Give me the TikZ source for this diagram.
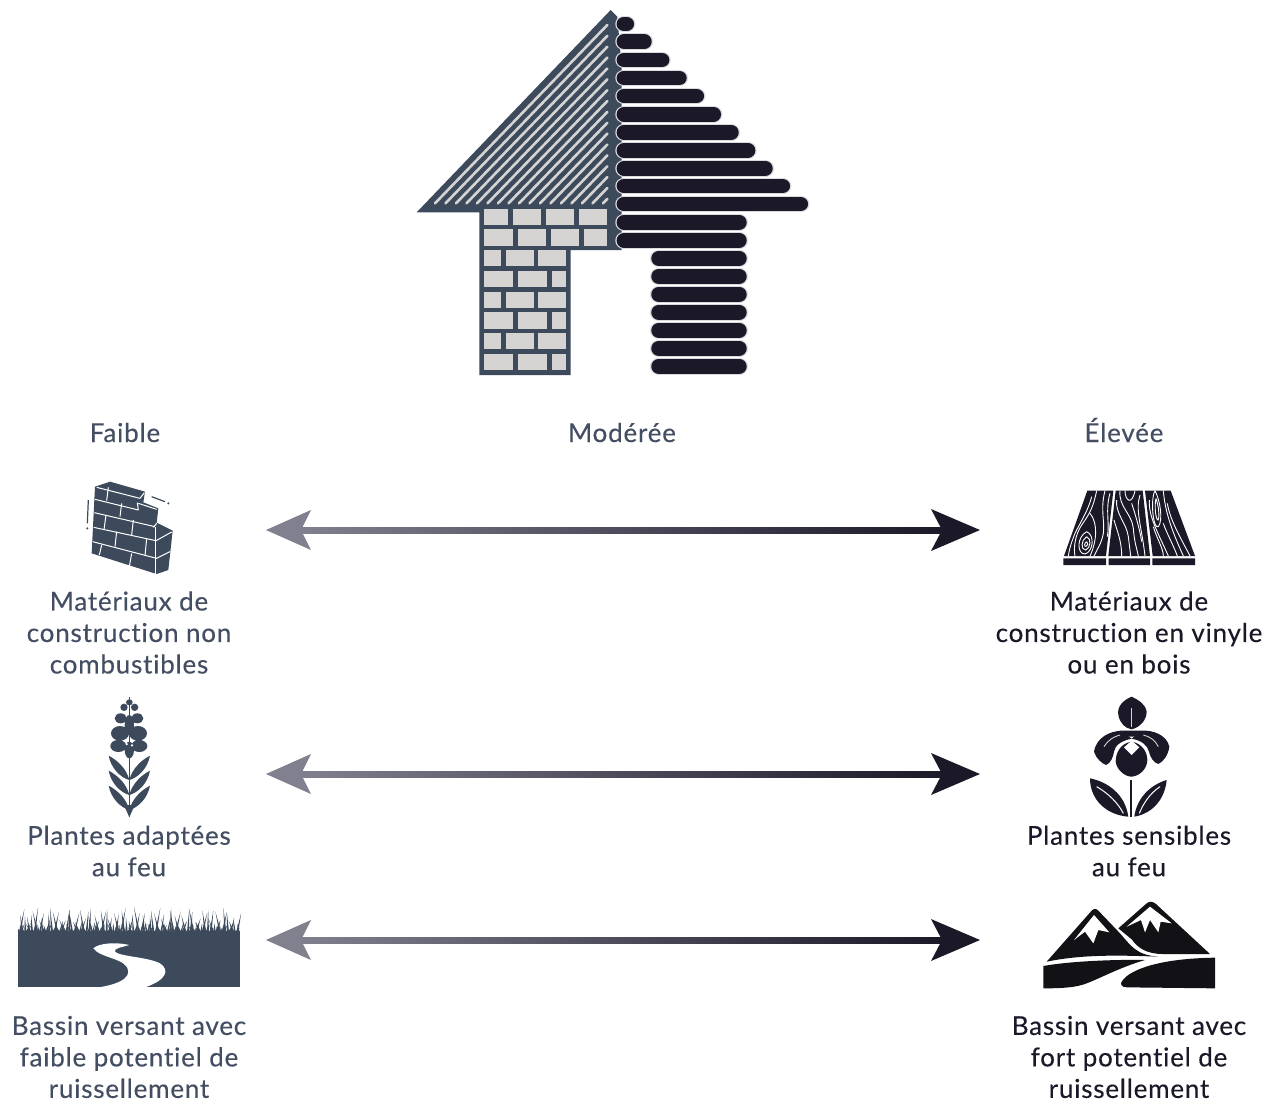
\documentclass[tikz,border=0pt]{standalone}
\usepackage{fontspec}
\setmainfont{Lato}[LetterSpace=3.0,FakeBold=0.25,Ligatures=NoCommon]
\definecolor{slatec}{HTML}{3C4A5C}
\definecolor{inkc}{HTML}{1B1828}
\definecolor{brickc}{HTML}{D5D4D2}
\definecolor{halo}{HTML}{DADADF}
\definecolor{labelc}{HTML}{434E62}
\definecolor{arrowl}{HTML}{80808F}
\definecolor{blackm}{HTML}{121116}
\tikzset{
 lab/.style={font=\fontsize{26}{31.5}\selectfont,align=center,text=#1,inner sep=0pt},
 head/.style={font=\fontsize{26}{31.5}\selectfont,text=labelc,inner sep=0pt,anchor=base},
 logline/.style={line width=14.8pt,line cap=round,draw=inkc},
 loghalo/.style={line width=16.8pt,line cap=round,draw=halo},
 brick/.style={fill=brickc,draw=none},
 grain/.style={draw=white,line width=0.9pt},
 mortar/.style={draw=white,line width=1pt},
}
\newcommand{\dblarrow}[2]{%
 \coordinate (l#1) at (266,#2);
 \coordinate (r#1) at (980,#2);
 \coordinate (ls#1) at (296,#2-3);
 \coordinate (rs#1) at (945,#2+3);
 \shade[left color=arrowl,right color=inkc] (ls#1) rectangle (rs#1);
 \fill[arrowl] (l#1) -- ++(45,-20) -- ++(-10,20) -- ++(10,20) -- cycle;
 \fill[inkc] (r#1) -- ++(-49,-21) -- ++(11,21) -- ++(-11,21) -- cycle;
}
\begin{document}
\begin{tikzpicture}[x=1pt,y=-1pt]
\useasboundingbox (0,0) rectangle (1269,1101);
\fill[white] (0,0) rectangle (1269,1101);
% ---------- House (zoom coordinates)
\begin{scope}[shift={(400,0)},scale=0.33333]
 \fill[slatec] (632,30) -- (50,637) -- (238,637) -- (238,1125) -- (512,1125) -- (512,750) -- (665,750) -- (665,200) -- (652,50) -- cycle;
 \foreach \y/\a/\b in {
  627/253/325,627/340/424,627/437/522,627/536/622,
  688/253/340,688/355/438,688/452/537,688/551/622,
  750/253/302,750/317/402,750/415/499,
  813/253/340,813/355/440,813/455/499,
  875/253/302,875/317/402,875/415/499,
  937/253/340,937/355/440,937/455/499,
  999/253/302,999/317/402,999/415/499,
  1062/253/340,1062/355/440,1062/455/499}{
  \fill[brick] (\a,\y) rectangle (\b,\y+49);
 }
 \foreach \i in {0,...,16}{
  \pgfmathsetmacro{\xs}{105+\i*31.5}
  \pgfmathsetmacro{\ye}{610-(622-\xs)*1.035}
  \draw[brickc,line width=2.6pt,line cap=round] (\xs,610) -- (622,\ye);
 }
 \foreach \y/\e in {72/702,125/755,180/808,234/860,288/912,343/963,397/1016,451/1066,505/1118,558/1170,612/1224,667/1040,721/1040}{
  \draw[loghalo] (671,\y) -- (\e-21,\y);
 }
 \foreach \y in {775,829,883,937,991,1045,1099}{
  \draw[loghalo] (775,\y) -- (1019,\y);
 }
 \foreach \y/\e in {72/702,125/755,180/808,234/860,288/912,343/963,397/1016,451/1066,505/1118,558/1170,612/1224,667/1040,721/1040}{
  \draw[logline] (672,\y) -- (\e-22,\y);
 }
 \foreach \y in {775,829,883,937,991,1045,1099}{
  \draw[logline] (776,\y) -- (1018,\y);
 }
\end{scope}
% ---------- Column headers
\node[head] (faible) at (125,442) {Faible};
\node[head] (moderee) at (622,442) {Modérée};
\node[head] (elevee) at (1124,442) {Élevée};
% ---------- Arrows
\dblarrow{a}{530}
\dblarrow{b}{774}
\dblarrow{c}{940}
% ---------- Labels
\node[lab=labelc] (t1) at (129,632.5) {Matériaux de\\construction non\\combustibles};
\node[lab=inkc] (t2) at (1129,632.5) {Matériaux de\\construction en vinyle\\ou en bois};
\node[lab=labelc] (t3) at (129,851) {Plantes adaptées\\au feu};
\node[lab=inkc] (t4) at (1129,851) {Plantes sensibles\\au feu};
\node[lab=labelc] (t5) at (129,1057) {Bassin versant avec\\faible potentiel de\\ruissellement};
\node[lab=inkc] (t6) at (1129,1057) {Bassin versant avec\\fort potentiel de\\ruissellement};
% ---------- Brick wall and fireweed
\begin{scope}[shift={(0,470)},scale=0.33333]
 \fill[slatec] (285,50) -- (330,35) -- (435,65) -- (430,97) -- (475,115) -- (470,158) -- (518,182) -- (505,300) -- (470,312) -- (275,250) -- cycle;
 \draw[mortar] (290,52) -- (420,85) (420,85) -- (433,68);
 \draw[mortar] (285,88) -- (415,120) (415,100) -- (470,118) (415,120) -- (412,98);
 \draw[mortar] (283,128) -- (465,170) (460,172) -- (470,160);
 \draw[mortar] (281,172) -- (468,212) -- (515,186);
 \draw[mortar] (278,215) -- (470,265) -- (510,245);
 \draw[mortar] (468,170) -- (468,312);
 \draw[mortar] (325,52) -- (320,92) (365,100) -- (360,140) (318,135) -- (312,180) (400,150) -- (395,195);
 \draw[mortar] (350,185) -- (345,230) (305,225) -- (298,255) (395,250) -- (388,290) (440,205) -- (435,258);
 \draw[slatec,line width=1.2pt] (265,90) -- (262,160) (455,80) -- (495,95);
 \fill[slatec] (262,175) circle (3.5) (505,100) circle (3.5);
 % fireweed
 \draw[slatec,line width=1.6pt] (388,680) -- (388,1040);
 \fill[slatec] (388,697) ellipse (10 and 9) (372,712) circle (11) (404,712) circle (11)
  (362,745) ellipse (18 and 15) (412,745) ellipse (18 and 15)
  (360,790) ellipse (27 and 22) (414,790) ellipse (27 and 22)
  (355,828) ellipse (24 and 18) (418,828) ellipse (24 and 18)
  (388,765) ellipse (14 and 30) (388,840) ellipse (14 and 25);
 \fill[white] (380,822) circle (4) (396,826) circle (4);
 \foreach \s/\y in {1/885,1/930,1/975,-1/885,-1/930,-1/975}{
  \fill[slatec] (388,\y+45) .. controls (388+\s*26,\y+38) and (388+\s*55,\y+10) .. (388+\s*62,\y-28) .. controls (388+\s*35,\y-14) and (388+\s*8,\y+12) .. cycle;
 }
 \fill[slatec] (388,1042) -- (372,1005) -- (404,1005) -- cycle;
\end{scope}
% ---------- Wood planks and orchid
\begin{scope}[shift={(950,470)},scale=0.33333]
 \fill[inkc] (412,62) -- (490,62) -- (468,258) -- (342,258) -- cycle;
 \fill[inkc] (497,62) -- (578,62) -- (600,258) -- (475,258) -- cycle;
 \fill[inkc] (585,62) -- (662,62) -- (735,258) -- (608,258) -- cycle;
 \fill[inkc] (340,265) rectangle (468,285) (476,265) rectangle (600,285) (607,265) rectangle (735,285);
 \draw[grain] (440,62) .. controls (430,110) and (420,130) .. (395,165) .. controls (375,195) and (370,235) .. (375,258);
 \draw[grain] (425,80) .. controls (415,120) and (395,150) .. (375,190) .. controls (365,215) and (358,235) .. (355,258);
 \draw[grain] (465,62) .. controls (450,120) and (465,150) .. (460,190) .. controls (455,220) and (440,240) .. (432,258);
 \draw[grain] (480,70) .. controls (465,120) and (480,160) .. (472,200);
 \draw[grain] (410,185) .. controls (380,200) and (380,252) .. (405,252) .. controls (430,245) and (435,195) .. (410,185);
 \draw[grain] (410,200) .. controls (392,210) and (392,240) .. (407,240) .. controls (422,235) and (425,205) .. (410,200);
 \draw[grain] (410,215) .. controls (402,220) and (402,230) .. (408,229) .. controls (414,228) and (416,218) .. (410,215);
 \draw[grain] (420,130) .. controls (445,160) and (440,215) .. (420,258);
 \draw[grain] (525,62) .. controls (525,90) and (545,110) .. (555,62);
 \draw[grain] (510,62) .. controls (505,110) and (545,130) .. (550,175) .. controls (552,210) and (560,235) .. (565,258);
 \draw[grain] (500,90) .. controls (495,130) and (530,160) .. (535,200) .. controls (538,225) and (540,240) .. (542,258);
 \draw[grain] (492,150) .. controls (500,180) and (515,210) .. (515,258);
 \draw[grain] (570,75) .. controls (555,120) and (575,170) .. (585,258);
 \draw[grain] (545,100) .. controls (555,130) and (570,180) .. (575,215);
 \draw[grain] (615,62) .. controls (600,90) and (610,180) .. (625,170) .. controls (640,150) and (630,90) .. (615,62);
 \draw[grain] (618,85) .. controls (612,110) and (618,150) .. (624,150) .. controls (630,140) and (625,105) .. (618,85);
 \draw[grain] (598,90) .. controls (595,140) and (625,190) .. (655,258);
 \draw[grain] (640,62) .. controls (645,120) and (660,170) .. (700,258);
 \draw[grain] (652,100) .. controls (660,150) and (690,200) .. (720,258);
 \draw[grain] (640,160) .. controls (650,190) and (670,225) .. (682,258);
 \draw[grain] (610,170) .. controls (620,205) and (640,235) .. (640,258);
 % orchid
 \fill[inkc] (545,680) .. controls (520,690) and (500,710) .. (505,735) .. controls (510,760) and (525,775) .. (545,778) .. controls (570,772) and (590,750) .. (590,725) .. controls (585,700) and (565,690) .. (545,680) -- cycle;
 \draw[brickc,line width=1pt] (545,715) -- (545,772);
 \fill[inkc] (512,782) .. controls (480,785) and (440,800) .. (432,845) .. controls (438,865) and (455,880) .. (468,885) .. controls (482,880) and (490,860) .. (492,845) .. controls (495,825) and (515,812) .. (545,806) -- cycle;
 \fill[inkc] (575,782) .. controls (610,780) and (650,795) .. (658,830) .. controls (655,855) and (640,875) .. (625,882) .. controls (610,878) and (600,860) .. (597,845) .. controls (592,825) and (575,812) .. (545,806) -- cycle;
 \fill[inkc] (512,782) -- (575,782) -- (560,800) -- (530,800) -- cycle;
 \draw[brickc,line width=0.9pt] (462,830) .. controls (475,810) and (490,800) .. (510,795) (625,830) .. controls (615,810) and (600,800) .. (580,795);
 \fill[inkc] (545,815) .. controls (510,820) and (497,850) .. (497,875) .. controls (500,900) and (525,920) .. (545,920) .. controls (570,918) and (592,895) .. (592,870) .. controls (592,845) and (575,820) .. (545,815) -- cycle;
 \fill[white] (545,855) -- (522,832) -- (545,812) -- (568,832) -- cycle;
 \draw[inkc,line width=1.6pt] (543,930) -- (543,1040);
 \fill[inkc] (420,925) .. controls (470,935) and (525,970) .. (535,1040) .. controls (470,1035) and (420,990) .. (420,925) -- cycle;
 \fill[inkc] (650,930) .. controls (645,985) and (610,1030) .. (553,1040) .. controls (560,985) and (600,945) .. (650,930) -- cycle;
 \draw[white,line width=1pt] (440,950) .. controls (475,970) and (505,1000) .. (520,1030);
 \draw[white,line width=1pt] (630,950) .. controls (600,970) and (580,1000) .. (568,1030);
\end{scope}
% ---------- Grass and river
\begin{scope}[shift={(0,890)},scale=0.33333]
 \fill[slatec] (54,122) rectangle (720,292);
 \foreach \i in {0,...,165}{
  \pgfmathsetmacro{\xg}{56+4*\i}
  \pgfmathsetmacro{\sa}{sin(\i*97)}
  \pgfmathsetmacro{\sb}{sin(\i*53)}
  \pgfmathsetmacro{\hg}{6+52*\sa*\sa*\sa*\sa+14*\sb*\sb}
  \pgfmathsetmacro{\lg}{14*sin(\i*71)}
  \fill[slatec] (\xg-3,125) -- (\xg+\lg,122-\hg) -- (\xg+3,125) -- cycle;
 }
 \fill[white] (280,175) .. controls (295,160) and (345,155) .. (388,165) .. controls (365,172) and (340,175) .. (345,185) .. controls (360,200) and (440,200) .. (480,220) .. controls (510,240) and (500,270) .. (435,292) -- (240,296) .. controls (320,295) and (385,275) .. (385,245) .. controls (385,205) and (300,205) .. (280,175) -- cycle;
\end{scope}
% ---------- Mountains
\begin{scope}[shift={(950,880)},scale=0.33333]
 \fill[blackm] (290,245) -- (425,92) .. controls (432,85) and (438,85) .. (445,92) -- (510,160) .. controls (545,200) and (560,225) .. (625,230) .. controls (520,226) and (400,222) .. (290,245) -- cycle;
 \fill[blackm] (505,145) -- (590,70) .. controls (600,62) and (610,65) .. (618,72) -- (780,222) -- (640,222) .. controls (590,222) and (565,205) .. (545,178) -- cycle;
 \fill[white] (432,105) -- (372,180) -- (405,155) -- (430,190) -- (445,150) -- (478,157) -- cycle;
 \fill[white] (600,80) -- (530,140) -- (573,120) -- (585,157) -- (600,120) -- (625,157) -- (632,125) -- (665,130) -- cycle;
 \fill[blackm] (280,258) .. controls (350,245) and (480,238) .. (585,240) .. controls (510,262) and (450,295) .. (410,310) .. controls (380,322) and (340,325) .. (280,325) -- cycle;
 \fill[blackm] (795,233) -- (795,325) -- (530,322) .. controls (515,322) and (510,312) .. (515,305) .. controls (540,265) and (640,235) .. (795,233) -- cycle;
\end{scope}
\end{tikzpicture}
\end{document}
